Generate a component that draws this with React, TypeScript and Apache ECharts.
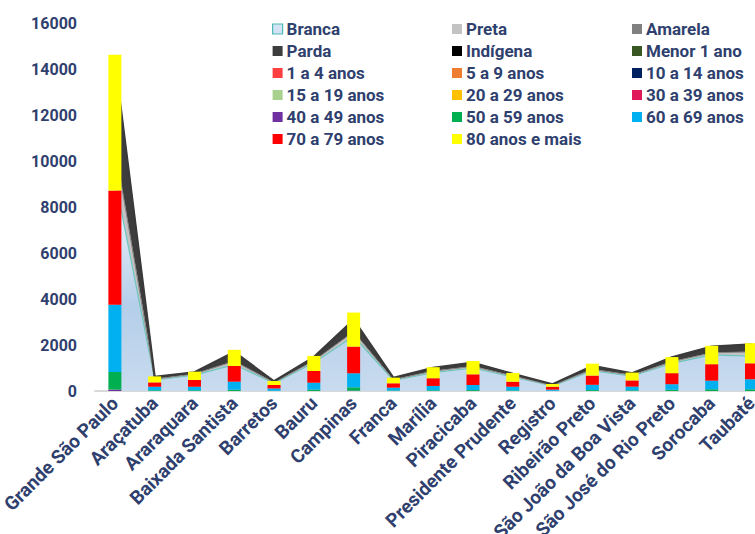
import React, { useEffect, useRef } from 'react';
import * as echarts from 'echarts';

const categories = [
  'Grande São Paulo', 'Araçatuba', 'Araraquara', 'Baixada Santista', 'Barretos', 'Bauru',
  'Campinas', 'Franca', 'Marília', 'Piracicaba', 'Presidente Prudente', 'Registro',
  'Ribeirão Preto', 'São João da Boa Vista', 'São José do Rio Preto', 'Sorocaba', 'Taubaté',
];

const yTicks = [0, 2000, 4000, 6000, 8000, 10000, 12000, 14000, 16000];

// race (stacked areas)
const branca = [9250, 480, 690, 1150, 340, 1230, 2380, 460, 800, 1000, 610, 220, 880, 650, 1200, 1570, 1520];
const preta = [1250, 25, 40, 130, 20, 60, 170, 25, 50, 60, 30, 15, 50, 30, 60, 80, 170];
const amarela = [120, 10, 10, 15, 3, 20, 25, 5, 15, 10, 15, 5, 10, 5, 15, 10, 10];
const parda = [3700, 100, 70, 400, 60, 160, 520, 80, 140, 160, 90, 50, 150, 85, 190, 270, 330];
const indigena = [10, 1, 1, 2, 0, 1, 3, 1, 1, 1, 2, 1, 1, 1, 1, 1, 1];

// age groups (stacked bars)
const menor1 = [0, 0, 0, 0, 0, 0, 0, 0, 0, 0, 0, 0, 0, 0, 0, 0, 0];
const a1a4 = [0, 0, 0, 0, 0, 0, 0, 0, 0, 0, 0, 0, 0, 0, 0, 0, 0];
const a5a9 = [0, 0, 0, 0, 0, 0, 0, 0, 0, 0, 0, 0, 0, 0, 0, 0, 0];
const a10a14 = [0, 0, 0, 0, 0, 0, 0, 0, 0, 0, 0, 0, 0, 0, 0, 0, 0];
const a15a19 = [0, 0, 0, 0, 0, 0, 0, 0, 0, 0, 0, 0, 0, 0, 0, 0, 0];
const a20a29 = [0, 0, 0, 0, 0, 0, 0, 0, 0, 0, 0, 0, 0, 0, 0, 0, 0];
const a30a39 = [0, 0, 0, 0, 0, 0, 0, 0, 0, 0, 0, 0, 0, 0, 0, 0, 0];
const a40a49 = [60, 0, 0, 0, 0, 0, 15, 0, 0, 0, 0, 0, 0, 0, 0, 0, 0];
const a50a59 = [770, 30, 30, 55, 10, 60, 145, 20, 30, 40, 25, 10, 40, 30, 55, 75, 75];
const a60a69 = [2920, 155, 155, 350, 100, 300, 610, 125, 190, 220, 160, 50, 230, 160, 240, 375, 435];
const a70a79 = [4970, 190, 295, 685, 150, 510, 1160, 190, 335, 465, 220, 125, 400, 270, 480, 715, 695];
const a80mais = [5900, 260, 360, 700, 175, 655, 1480, 245, 480, 580, 380, 120, 520, 340, 700, 800, 875];

const raceSeries = [
  { name: 'Branca', data: branca, color: '#c9dcef' },
  { name: 'Preta', data: preta, color: '#c3c3c3' },
  { name: 'Amarela', data: amarela, color: '#808080' },
  { name: 'Parda', data: parda, color: '#3d3d3d' },
  { name: 'Indígena', data: indigena, color: '#000000' },
];

const ageSeries = [
  { name: 'Menor 1 ano', data: menor1, color: '#385723' },
  { name: '1 a 4 anos', data: a1a4, color: '#ff3f3f' },
  { name: '5 a 9 anos', data: a5a9, color: '#ed7d31' },
  { name: '10 a 14 anos', data: a10a14, color: '#002060' },
  { name: '15 a 19 anos', data: a15a19, color: '#a9d18e' },
  { name: '20 a 29 anos', data: a20a29, color: '#ffc000' },
  { name: '30 a 39 anos', data: a30a39, color: '#e0195a' },
  { name: '40 a 49 anos', data: a40a49, color: '#7030a0' },
  { name: '50 a 59 anos', data: a50a59, color: '#00b050' },
  { name: '60 a 69 anos', data: a60a69, color: '#00b0f0' },
  { name: '70 a 79 anos', data: a70a79, color: '#ff0000' },
  { name: '80 anos e mais', data: a80mais, color: '#ffff00' },
];

const legendCols = [
  ['Branca', 'Parda', '1 a 4 anos', '15 a 19 anos', '40 a 49 anos', '70 a 79 anos'],
  ['Preta', 'Indígena', '5 a 9 anos', '20 a 29 anos', '50 a 59 anos', '80 anos e mais'],
  ['Amarela', 'Menor 1 ano', '10 a 14 anos', '30 a 39 anos', '60 a 69 anos'],
];

const TEXT = '#2f3f6e';
const FONT = 'Roboto';

export default function App() {
  const ref = useRef<HTMLDivElement>(null);
  useEffect(() => {
    const chart = echarts.init(ref.current!, null, { renderer: 'svg' });
    const colorOf: Record<string, string> = {};
    raceSeries.forEach((s) => (colorOf[s.name] = s.color));
    ageSeries.forEach((s) => (colorOf[s.name] = s.color));
    const legendX = [272, 452, 632];
    const legends = legendCols.map((col, i) => ({
      orient: 'vertical',
      left: legendX[i],
      top: 18,
      padding: 0,
      itemWidth: 10,
      itemHeight: 10,
      itemGap: 0,
      icon: 'rect',
      selectedMode: false,
      textStyle: { color: TEXT, fontFamily: FONT, fontWeight: 'bold', fontSize: 17, lineHeight: 22, padding: [0, 0, 0, -1] },
      data: col.map((n) =>
        n === 'Branca'
          ? { name: n, icon: 'rect', itemStyle: { color: '#d3e3f3', borderColor: '#4dbab3', borderWidth: 1.2 } }
          : { name: n, icon: 'rect', itemStyle: { color: colorOf[n], borderWidth: 0 } }
      ),
    }));

    const series: any[] = [];
    raceSeries.forEach((s) => {
      const isBranca = s.name === 'Branca';
      const isTop = s.name === 'Indígena';
      series.push({
        name: s.name,
        type: 'line',
        stack: 'race',
        data: s.data,
        symbol: 'none',
        showSymbol: false,
        z: 1,
        itemStyle: { color: s.color },
        lineStyle: isBranca
          ? { color: '#6cc6be', width: 1.2 }
          : isTop
          ? { color: '#3a3a3a', width: 2.2 }
          : { color: s.color, width: 1 },
        areaStyle: isBranca
          ? {
              opacity: 1,
              color: new echarts.graphic.LinearGradient(0, 0, 0, 1, [
                { offset: 0, color: '#f6f9fd' },
                { offset: 0.6, color: '#b5cee9' },
                { offset: 1, color: '#c8dbef' },
              ]),
            }
          : { opacity: 1, color: s.color },
      });
    });
    ageSeries.forEach((s) => {
      series.push({
        name: s.name,
        type: 'bar',
        stack: 'age',
        data: s.data,
        barWidth: 13,
        z: 3,
        itemStyle: { color: s.color },
      });
    });

    chart.setOption({
      animation: false,
      backgroundColor: '#ffffff',
      legend: legends,
      grid: { left: 95, right: 28.6, top: 23, bottom: 143, containLabel: false, outerBoundsMode: 'none' },
      xAxis: {
        type: 'category',
        data: categories,
        boundaryGap: true,
        axisLine: { show: true, lineStyle: { color: '#d9d9d9', width: 2 } },
        axisTick: { show: false },
        axisLabel: {
          interval: 0,
          rotate: 45,
          margin: 9,
          color: TEXT,
          fontFamily: FONT,
          fontWeight: 'bold',
          fontSize: 19,
        },
      },
      yAxis: {
        type: 'value',
        min: yTicks[0],
        max: yTicks[yTicks.length - 1],
        interval: yTicks[1] - yTicks[0],
        axisLine: { show: false },
        axisTick: { show: false },
        splitLine: { show: false },
        axisLabel: {
          margin: 18,
          color: TEXT,
          fontFamily: FONT,
          fontWeight: 'bold',
          fontSize: 16,
          formatter: (v: number) => String(v),
        },
      },
      series,
    });
    return () => chart.dispose();
  }, []);
  return (
    <div style={{ position: 'fixed', left: 0, top: 0, width: 755, height: 534, overflow: 'hidden', background: '#fff' }}>
      <div ref={ref} style={{ width: 800, height: 534 }} />
    </div>
  );
}
